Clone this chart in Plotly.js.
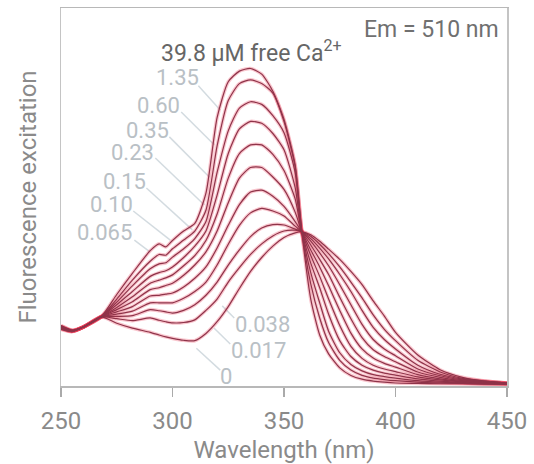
<!DOCTYPE html>
<html>
<head>
<meta charset="utf-8">
<script src="https://cdn.plot.ly/plotly-3.0.1.min.js"></script>
<style>
  html, body { margin: 0; padding: 0; background: #ffffff; }
  #chart { width: 534px; height: 464px; }
</style>
</head>
<body>
<div id="chart"></div>
<script>
// Excitation wavelength (nm)
const wavelengths = [250,255,260,268,275,282,290,294,297,300,305,310,315,320,325,330,335,340,345,350,355,358,362,366,370,375,380,385,390,395,400,410,420,430,440,450];

// Fluorescence excitation (relative units) for each free Ca2+ concentration (µM)
const ca_0     = [16.0,14.8,15.6,18.3,16.6,15.3,14.2,13.5,13.0,12.6,12.1,12.0,13.9,17.0,21.0,25.8,30.3,34.0,37.0,39.3,40.5,40.8,40.0,38.3,36.2,33.5,30.3,26.8,22.5,18.5,14.2,8.2,4.3,2.3,1.3,0.8];
const ca_0017  = [15.9,14.7,15.6,18.3,17.8,17.3,18.0,17.4,17.0,16.7,16.8,17.5,20.0,23.0,27.5,31.3,34.8,37.6,39.7,41.0,41.2,40.8,39.6,37.5,35.0,31.5,27.5,23.3,18.8,15.0,12.0,6.8,3.7,2.0,1.3,0.8];
const ca_0038  = [15.8,14.7,15.6,18.3,18.4,18.6,20.2,19.9,19.6,19.3,20.0,21.5,24.0,27.5,32.0,36.0,39.5,41.8,42.7,42.6,41.5,40.8,39.0,36.5,33.6,29.5,25.0,20.0,15.5,12.3,9.8,5.5,3.1,1.8,1.2,0.8];
const ca_0065  = [15.7,14.6,15.6,18.3,19.0,19.8,22.0,22.0,22.0,22.0,23.2,25.0,27.5,32.0,37.5,42.5,45.8,47.0,46.3,45.0,42.3,40.8,38.3,35.2,31.8,26.8,21.5,16.3,12.3,9.8,8.0,4.5,2.7,1.6,1.1,0.7];
const ca_010   = [15.6,14.6,15.6,18.3,19.6,21.0,23.8,24.0,24.3,24.6,26.2,28.5,31.5,36.5,42.5,48.0,51.3,51.8,50.2,47.5,43.5,40.8,37.3,33.5,29.5,23.5,17.8,12.8,9.6,7.8,6.4,3.7,2.3,1.4,1.0,0.7];
const ca_015   = [15.5,14.6,15.6,18.3,20.2,22.3,25.5,26.0,26.6,27.2,29.3,32.0,35.5,41.0,48.5,55.0,57.8,57.8,55.3,52.0,46.0,40.8,36.0,31.5,26.5,20.0,14.0,9.8,7.4,6.0,5.0,3.0,1.9,1.2,0.9,0.7];
const ca_023   = [15.4,14.5,15.6,18.3,20.8,23.6,27.2,28.0,28.6,29.4,31.8,34.5,38.5,45.5,55.0,61.5,63.8,63.8,61.3,57.0,49.5,40.8,34.5,29.0,23.0,16.0,10.5,7.3,5.5,4.5,3.8,2.4,1.6,1.1,0.8,0.6];
const ca_035   = [15.3,14.5,15.6,18.3,21.5,25.0,29.0,30.0,30.5,31.5,34.0,37.0,41.0,50.5,61.5,68.0,70.0,69.5,66.8,62.5,52.5,40.8,32.5,26.0,19.0,12.0,7.8,5.5,4.2,3.4,2.9,1.9,1.3,0.9,0.7,0.6];
const ca_060   = [15.2,14.5,15.6,18.3,22.2,26.5,31.0,32.3,32.6,34.1,36.3,39.0,43.5,56.5,67.5,73.5,75.2,74.5,71.5,67.0,56.5,40.8,30.0,22.0,14.5,8.8,5.7,4.0,3.0,2.5,2.1,1.4,1.0,0.8,0.6,0.5];
const ca_135   = [15.1,14.4,15.6,18.3,23.0,28.0,33.0,34.8,34.6,36.3,38.6,41.0,46.5,63.5,75.5,80.0,81.0,80.0,77.5,70.0,58.0,40.8,27.0,18.0,11.5,6.8,4.2,2.8,2.1,1.7,1.4,1.0,0.8,0.7,0.6,0.5];
const ca_398   = [15.0,14.4,15.6,18.3,24.2,29.8,35.8,37.6,36.8,38.5,41.0,43.0,51.0,71.0,80.5,83.3,84.0,82.5,78.0,70.5,58.5,40.8,23.0,13.5,8.5,4.8,2.8,1.8,1.3,1.0,0.8,0.7,0.6,0.6,0.5,0.5];

const seriesNames = ["0","0.017","0.038","0.065","0.10","0.15","0.23","0.35","0.60","1.35","39.8"];
const seriesValues = [ca_0, ca_0017, ca_0038, ca_0065, ca_010, ca_015, ca_023, ca_035, ca_060, ca_135, ca_398];

// Curve labels (text) placed beside the curves
const curveLabels = ["1.35","0.60","0.35","0.23","0.15","0.10","0.065","0.038","0.017","0"];
const xTicks = [250,300,350,400,450];

const FONT = "Roboto, 'Liberation Sans', sans-serif";

const traces = [];
seriesValues.forEach((vals, i) => {
  traces.push({
    x: wavelengths, y: vals, type: "scatter", mode: "lines",
    name: seriesNames[i], showlegend: false, hoverinfo: "skip",
    line: { color: "rgba(232,50,78,0.28)", width: 3.6, shape: "spline", smoothing: 0.6 }
  });
});
seriesValues.forEach((vals, i) => {
  traces.push({
    x: wavelengths, y: vals, type: "scatter", mode: "lines",
    name: seriesNames[i] + " µM", showlegend: false,
    line: { color: "#8f3349", width: 1.2, shape: "spline", smoothing: 0.6 }
  });
});

// label placement (data coordinates) and leader lines
const labelPos = [
  [302.2, 81.5], [293.6, 74.3], [288.7, 67.7], [282.0, 61.9], [278.4, 54.2],
  [272.6, 47.9], [269.4, 40.7], [340.2, 16.4], [338.4, 9.3], [324.1, 2.6]
];
const leaders = [
  [311.6, 79.4, 321.4, 73.0], [303.9, 72.5, 318.7, 63.8], [298.6, 65.9, 316.5, 55.3],
  [292.3, 60.3, 314.3, 47.9], [288.3, 52.4, 308.9, 41.3], [282.4, 46.3, 299.0, 38.6],
  [282.9, 38.6, 290.0, 35.4], [327.7, 18.0, 322.3, 21.2], [325.9, 11.1, 318.7, 15.3],
  [321.4, 4.2, 310.7, 10.0]
];

const annotations = curveLabels.map((t, i) => ({
  text: t, x: labelPos[i][0], y: labelPos[i][1], xref: "x", yref: "y",
  showarrow: false, xanchor: "center", yanchor: "middle",
  font: { family: FONT, size: 22, color: "#b9c0c5" }
}));
annotations.push({
  text: "39.8 µM free Ca<sup>2+</sup>", x: 335.3, y: 88.6, xref: "x", yref: "y",
  showarrow: false, xanchor: "center", yanchor: "middle",
  font: { family: FONT, size: 23, color: "#666666" }
});
annotations.push({
  text: "Em = 510 nm", x: 416, y: 94.4, xref: "x", yref: "y",
  showarrow: false, xanchor: "center", yanchor: "middle",
  font: { family: FONT, size: 23, color: "#707070" }
});

const shapes = leaders.map(l => ({
  type: "line", xref: "x", yref: "y", x0: l[0], y0: l[1], x1: l[2], y1: l[3],
  line: { color: "#d3dbe0", width: 1.5 }, layer: "below"
}));

const layout = {
  width: 534, height: 464,
  margin: { l: 61, r: 27, t: 8, b: 78 },
  paper_bgcolor: "#ffffff", plot_bgcolor: "#ffffff",
  showlegend: false,
  font: { family: FONT, color: "#888888" },
  xaxis: {
    range: [250, 450], tickvals: xTicks, ticktext: xTicks.map(String),
    ticks: "outside", ticklen: 9, tickwidth: 1.5, tickcolor: "#aaaaaa",
    ticklabelstandoff: 4,
    showline: true, mirror: true, linecolor: "#b8b8b8", linewidth: 1.5,
    showgrid: false, zeroline: false,
    tickfont: { family: FONT, size: 24, color: "#8a8a8a" },
    title: { text: "Wavelength (nm)", font: { family: FONT, size: 24, color: "#8a8a8a" }, standoff: 8 }
  },
  yaxis: {
    range: [0, 100], showticklabels: false, ticks: "",
    showline: true, mirror: true, linecolor: "#c4c4c4", linewidth: 1.5,
    showgrid: false, zeroline: false,
    title: { text: "Fluorescence excitation", font: { family: FONT, size: 24, color: "#8a8a8a" }, standoff: 16 }
  },
  annotations: annotations,
  shapes: shapes
};

Plotly.newPlot("chart", traces, layout, { displayModeBar: false, staticPlot: true });
</script>
</body>
</html>
